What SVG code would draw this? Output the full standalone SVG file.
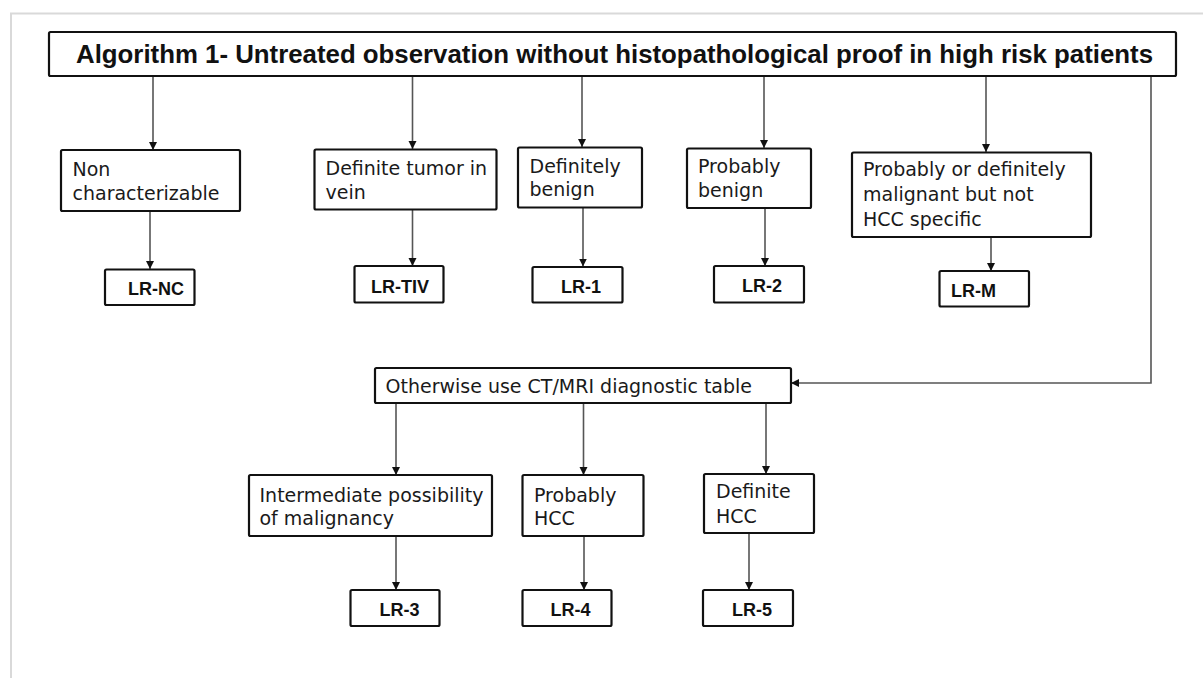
<svg xmlns="http://www.w3.org/2000/svg" width="1203" height="678" viewBox="0 0 1203 678">
<style>
.box{fill:#fff;stroke:#111;stroke-width:2.2}
.t{font-family:"DejaVu Sans","Liberation Sans",sans-serif;font-size:19px;fill:#1a1a1a}
.lr{font-family:"Liberation Sans",Arial,sans-serif;font-size:18px;font-weight:bold;fill:#111}
.title{font-family:"Liberation Sans",Arial,sans-serif;font-size:25.6px;font-weight:bold;fill:#111}
.c{fill:none;stroke:#555;stroke-width:1.6}
.frame{fill:none;stroke:#d9d9d9;stroke-width:2}
</style>
<defs>
<marker id="ah" markerUnits="userSpaceOnUse" markerWidth="9" markerHeight="9" refX="8" refY="4" orient="auto">
<path d="M0,0 L8,4 L0,8 z" fill="#111"/>
</marker>
</defs>
<rect width="1203" height="678" fill="#fff"/>
<path class="frame" d="M11,678 L11,13.5 L1203,13.5"/>

<g id="connectors">
<line class="c" x1="153" y1="76" x2="153" y2="150" marker-end="url(#ah)"/>
<line class="c" x1="412.5" y1="76" x2="412.5" y2="149" marker-end="url(#ah)"/>
<line class="c" x1="582" y1="76" x2="582" y2="147" marker-end="url(#ah)"/>
<line class="c" x1="764" y1="76" x2="764" y2="148" marker-end="url(#ah)"/>
<line class="c" x1="986" y1="76" x2="986" y2="152" marker-end="url(#ah)"/>
<polyline class="c" points="1151,73 1151,383 791,383" marker-end="url(#ah)"/>
<line class="c" x1="150" y1="211" x2="150" y2="269" marker-end="url(#ah)"/>
<line class="c" x1="412.5" y1="209" x2="412.5" y2="266" marker-end="url(#ah)"/>
<line class="c" x1="583" y1="207" x2="583" y2="266.5" marker-end="url(#ah)"/>
<line class="c" x1="765" y1="208" x2="765" y2="266" marker-end="url(#ah)"/>
<line class="c" x1="991" y1="237" x2="991" y2="271" marker-end="url(#ah)"/>
<line class="c" x1="396" y1="403" x2="396" y2="475" marker-end="url(#ah)"/>
<line class="c" x1="583.5" y1="403" x2="583.5" y2="475" marker-end="url(#ah)"/>
<line class="c" x1="766" y1="403" x2="766" y2="474" marker-end="url(#ah)"/>
<line class="c" x1="396" y1="536" x2="396" y2="590" marker-end="url(#ah)"/>
<line class="c" x1="584" y1="536" x2="584" y2="590" marker-end="url(#ah)"/>
<line class="c" x1="749" y1="533" x2="749" y2="590" marker-end="url(#ah)"/>
</g>

<g id="title">
<rect class="box" x="49" y="32" width="1127" height="44" rx="1.5"/>
<text class="title" x="76" y="63" textLength="1077" lengthAdjust="spacingAndGlyphs">Algorithm 1- Untreated observation without histopathological proof in high risk patients</text>
</g>

<g id="nc">
<rect class="box" x="61" y="150" width="179" height="61" rx="1.5"/>
<text class="t" x="72.5" y="176">Non</text>
<text class="t" x="72.5" y="200">characterizable</text>
</g>
<g id="tiv">
<rect class="box" x="314.5" y="149.5" width="182" height="60" rx="1.5"/>
<text class="t" x="325.5" y="175">Definite tumor in</text>
<text class="t" x="325.5" y="199">vein</text>
</g>
<g id="defbenign">
<rect class="box" x="518" y="147.5" width="124" height="60" rx="1.5"/>
<text class="t" x="529.5" y="172.5">Definitely</text>
<text class="t" x="529.5" y="195.5">benign</text>
</g>
<g id="probbenign">
<rect class="box" x="687" y="148.5" width="124" height="59.5" rx="1.5"/>
<text class="t" x="698" y="173">Probably</text>
<text class="t" x="698" y="197">benign</text>
</g>
<g id="malig">
<rect class="box" x="852" y="152.5" width="239" height="84.5" rx="1.5"/>
<text class="t" x="863" y="175.5">Probably or definitely</text>
<text class="t" x="863" y="201">malignant but not</text>
<text class="t" x="863" y="225.5">HCC specific</text>
</g>

<g id="lr-nc">
<rect class="box" x="105" y="269.5" width="89.5" height="35.5" rx="1.5"/>
<text class="lr" x="128" y="295">LR-NC</text>
</g>
<g id="lr-tiv">
<rect class="box" x="354.5" y="266" width="89" height="36.5" rx="1.5"/>
<text class="lr" x="371" y="292.5">LR-TIV</text>
</g>
<g id="lr-1">
<rect class="box" x="532.5" y="267" width="90" height="35.5" rx="1.5"/>
<text class="lr" x="561" y="292.5">LR-1</text>
</g>
<g id="lr-2">
<rect class="box" x="714" y="266" width="90" height="36.5" rx="1.5"/>
<text class="lr" x="742" y="292">LR-2</text>
</g>
<g id="lr-m">
<rect class="box" x="939.5" y="271" width="89.5" height="35.5" rx="1.5"/>
<text class="lr" x="951" y="296.5">LR-M</text>
</g>

<g id="otherwise">
<rect class="box" x="375" y="368" width="416" height="35" rx="1.5"/>
<text class="t" x="385.5" y="393">Otherwise use CT/MRI diagnostic table</text>
</g>

<g id="intermediate">
<rect class="box" x="249" y="475" width="243" height="61" rx="1.5"/>
<text class="t" x="259.5" y="501.5">Intermediate possibility</text>
<text class="t" x="259.5" y="525">of malignancy</text>
</g>
<g id="probhcc">
<rect class="box" x="522.5" y="475" width="121" height="61" rx="1.5"/>
<text class="t" x="534" y="501.5">Probably</text>
<text class="t" x="534" y="525">HCC</text>
</g>
<g id="defhcc">
<rect class="box" x="704" y="474" width="110" height="59" rx="1.5"/>
<text class="t" x="716" y="498">Definite</text>
<text class="t" x="716" y="523">HCC</text>
</g>

<g id="lr-3">
<rect class="box" x="350.5" y="590" width="89" height="36" rx="1.5"/>
<text class="lr" x="379.5" y="615.5">LR-3</text>
</g>
<g id="lr-4">
<rect class="box" x="522.5" y="590" width="89" height="36" rx="1.5"/>
<text class="lr" x="550.5" y="615.5">LR-4</text>
</g>
<g id="lr-5">
<rect class="box" x="703" y="590" width="90" height="36" rx="1.5"/>
<text class="lr" x="732" y="615.5">LR-5</text>
</g>
</svg>
